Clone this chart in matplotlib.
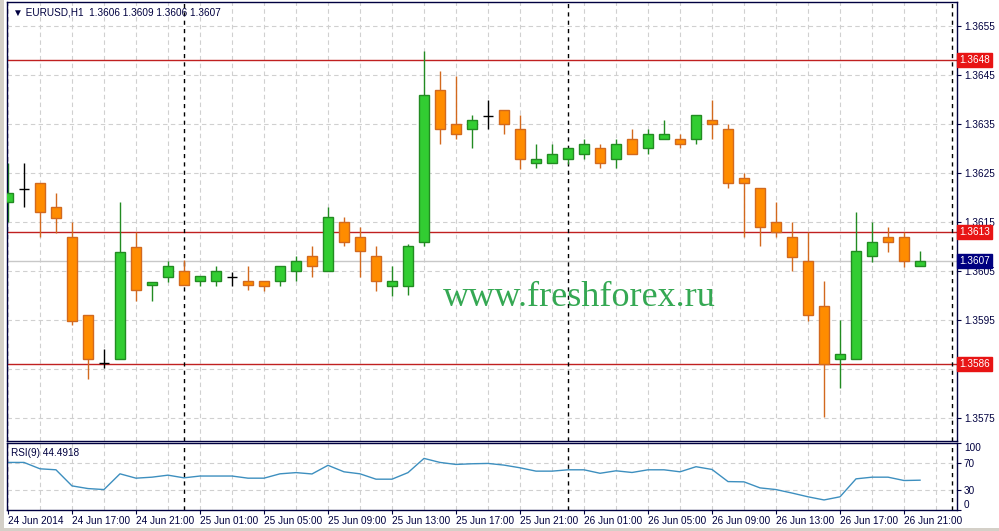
import numpy as np
import matplotlib
matplotlib.use("Agg")
from matplotlib import pyplot as plt
import matplotlib.transforms as mtrans
from matplotlib.patches import Rectangle

# hourly EURUSD bars, 24 Jun 13:00 .. 26 Jun 22:00
opens = [1.36191, 1.36217, 1.36230, 1.36181, 1.36119, 1.35960, 1.35862, 1.35870, 1.36099, 1.36021,
         1.36038, 1.36050, 1.36030, 1.36030, 1.36038, 1.36030, 1.36030, 1.36030, 1.36050, 1.36081,
         1.36050, 1.36150, 1.36119, 1.36081, 1.36020, 1.36020, 1.36109, 1.36420, 1.36350, 1.36340,
         1.36366, 1.36379, 1.36340, 1.36270, 1.36270, 1.36279, 1.36289, 1.36300, 1.36279, 1.36319,
         1.36300, 1.36319, 1.36319, 1.36319, 1.36358, 1.36340, 1.36240, 1.36219, 1.36150, 1.36119,
         1.36070, 1.35979, 1.35870, 1.35870, 1.36081, 1.36119, 1.36119, 1.36060]
highs = [1.36270, 1.36270, 1.36230, 1.36210, 1.36150, 1.35960, 1.35890, 1.36191, 1.36130, 1.36028,
         1.36070, 1.36072, 1.36040, 1.36060, 1.36048, 1.36060, 1.36030, 1.36060, 1.36081, 1.36100,
         1.36181, 1.36160, 1.36140, 1.36100, 1.36060, 1.36105, 1.36500, 1.36458, 1.36448, 1.36368,
         1.36399, 1.36379, 1.36368, 1.36309, 1.36309, 1.36300, 1.36319, 1.36309, 1.36319, 1.36340,
         1.36340, 1.36358, 1.36330, 1.36368, 1.36399, 1.36350, 1.36250, 1.36219, 1.36191, 1.36150,
         1.36130, 1.36030, 1.35950, 1.36170, 1.36150, 1.36140, 1.36130, 1.36091]
lows = [1.36150, 1.36181, 1.36119, 1.36128, 1.35940, 1.35830, 1.35852, 1.35870, 1.35989, 1.35989,
        1.36028, 1.36021, 1.36020, 1.36020, 1.36020, 1.36011, 1.36010, 1.36020, 1.36030, 1.36038,
        1.36050, 1.36100, 1.36038, 1.36009, 1.35999, 1.36000, 1.36100, 1.36309, 1.36319, 1.36300,
        1.36340, 1.36330, 1.36258, 1.36260, 1.36270, 1.36268, 1.36279, 1.36260, 1.36260, 1.36289,
        1.36289, 1.36319, 1.36300, 1.36309, 1.36319, 1.36219, 1.36119, 1.36100, 1.36119, 1.36050,
        1.35948, 1.35752, 1.35811, 1.35870, 1.36068, 1.36089, 1.36058, 1.36060]
closes = [1.36210, 1.36217, 1.36170, 1.36158, 1.35948, 1.35870, 1.35862, 1.36089, 1.36011, 1.36028,
          1.36060, 1.36021, 1.36040, 1.36050, 1.36038, 1.36021, 1.36020, 1.36060, 1.36070, 1.36060,
          1.36160, 1.36109, 1.36091, 1.36030, 1.36030, 1.36100, 1.36409, 1.36340, 1.36330, 1.36358,
          1.36366, 1.36350, 1.36279, 1.36279, 1.36289, 1.36300, 1.36309, 1.36270, 1.36309, 1.36289,
          1.36330, 1.36330, 1.36309, 1.36368, 1.36350, 1.36230, 1.36230, 1.36140, 1.36130, 1.36079,
          1.35960, 1.35860, 1.35881, 1.36091, 1.36109, 1.36109, 1.36070, 1.36070]

rsi = [71, 71, 61.5, 60, 36, 32, 30.5, 54, 47.5, 49,
       52, 48, 50.7, 50.7, 50.7, 47.5, 47.5, 54, 55.8, 53.8,
       66.7, 57, 54, 46, 46, 55.8, 77, 71, 68, 69,
       69.5, 67, 63, 58, 58, 60, 60, 54.8, 58.5, 56,
       60, 60, 57, 64.6, 60.5, 42.4, 42, 33, 30.5, 25.3,
       19.7, 15, 19.7, 46.5, 49, 49, 44, 44.4918]

time_labels = ["24 Jun 2014", "24 Jun 17:00", "24 Jun 21:00", "25 Jun 01:00", "25 Jun 05:00",
               "25 Jun 09:00", "25 Jun 13:00", "25 Jun 17:00", "25 Jun 21:00", "26 Jun 01:00",
               "26 Jun 05:00", "26 Jun 09:00", "26 Jun 13:00", "26 Jun 17:00", "26 Jun 21:00"]
label_bars = [0, 4, 8, 12, 16, 20, 24, 28, 32, 36, 40, 44, 48, 52, 56]
separators = [11, 35, 59]          # midnight bars
levels = [1.3648, 1.3613, 1.3586]
last_price = 1.3607
price_ticks = [1.3575, 1.3585, 1.3595, 1.3605, 1.3615, 1.3625, 1.3635, 1.3645, 1.3655]
price_labels = ["1.3575", "", "1.3595", "1.3605", "1.3615", "1.3625", "1.3635", "1.3645", "1.3655"]

W, H = 999, 531
plt.rcParams['font.family'] = ['Liberation Sans', 'DejaVu Sans']
fig = plt.figure(figsize=(W / 100, H / 100), dpi=100)
fig.patch.set_facecolor("white")

def frac(x0, y0, x1, y1):
    return [x0 / W, 1 - y1 / H, (x1 - x0) / W, (y1 - y0) / H]

navy = "#000040"
grid_c = "#d0d0d0"
fs = 7.2
ax = fig.add_axes(frac(7, 2, 957, 441))
ax2 = fig.add_axes(frac(7, 443, 957, 510))

x = np.arange(len(opens))
o = np.array(opens); h = np.array(highs); l = np.array(lows); c = np.array(closes)
up = c > o
dn = c < o
dj = c == o

xlim = (-0.06, 59.31)
for a in (ax, ax2):
    a.set_xlim(*xlim)
    for b in range(0, 60, 2):
        a.axvline(b, color=grid_c, lw=0.8, ls=(0, (4, 3)), zorder=0)
    for s in separators:
        a.axvline(s, color="black", lw=1, ls=(0, (3, 3)), zorder=1.6)
    for sp in a.spines.values():
        sp.set_color(navy)
        sp.set_linewidth(1)

ax.set_ylim(1.35703, 1.36599)
for p in price_ticks:
    ax.axhline(p, color=grid_c, lw=0.8, ls=(0, (4, 3)), zorder=0)

green, green_e = "#32cd32", "#228b22"
orange, orange_e = "#ff8c00", "#d2691e"
bw = 0.62
ax.vlines(x[up], l[up], h[up], color=green_e, lw=1, zorder=2)
ax.bar(x[up], (c - o)[up], bw, bottom=o[up], color=green, edgecolor=green_e, lw=1, zorder=3)
ax.vlines(x[dn], l[dn], h[dn], color=orange_e, lw=1, zorder=2)
ax.bar(x[dn], (o - c)[dn], bw, bottom=c[dn], color=orange, edgecolor=orange_e, lw=1, zorder=3)
ax.vlines(x[dj], l[dj], h[dj], color="black", lw=1, zorder=2)
ax.hlines(o[dj], x[dj] - bw / 2, x[dj] + bw / 2, color="black", lw=1, zorder=3)

for lv in levels:
    ax.axhline(lv, color="#c02020", lw=1, zorder=1.5)
ax.axhline(last_price, color="#c8c8c8", lw=1, zorder=1.4)

ax.yaxis.tick_right()
ax.set_yticks(price_ticks)
ax.set_yticklabels(price_labels)
ax.tick_params(axis="y", colors=navy, labelsize=fs, length=3, pad=2)
ax.tick_params(axis="x", bottom=False, labelbottom=False)

tr = mtrans.blended_transform_factory(ax.transAxes, ax.transData)
for lv in levels:
    ax.text(1.0025, lv, f"{lv:.4f}", transform=tr, color="white", fontsize=fs, va="center",
            ha="left", bbox=dict(boxstyle="square,pad=0.2", fc="#e81414", ec="#e81414"))
ax.text(1.0025, last_price, f"{last_price:.4f}", transform=tr, color="white", fontsize=fs,
        va="center", ha="left", bbox=dict(boxstyle="square,pad=0.2", fc="#000080", ec="#000080"))

ax.text(0.006, 0.988, "\u25BC EURUSD,H1  1.3606 1.3609 1.3606 1.3607", transform=ax.transAxes,
        fontsize=fs, color=navy, va="top", ha="left")
ax.text(35.7, 1.35995, "www.freshforex.ru", fontsize=26, color="#35a853",
        family=["Liberation Serif"], ha="center", va="center", zorder=1)

# RSI panel
ax2.set_ylim(0, 100)
for lvl in (30, 70):
    ax2.axhline(lvl, color=grid_c, lw=0.8, ls=(0, (4, 3)), zorder=0)
ax2.plot(x, rsi, color="#3d8fbf", lw=1, zorder=2)
ax2.yaxis.tick_right()
ax2.set_yticks([0, 30, 70, 100])
ax2.tick_params(axis="y", colors=navy, labelsize=fs, length=3, pad=2)
ylabs = ax2.get_yticklabels()
ylabs[0].set_va("bottom")
ylabs[-1].set_va("top")
ax2.set_xticks(label_bars)
ax2.set_xticklabels(time_labels, ha="left")
ax2.tick_params(axis="x", colors=navy, labelsize=fs, length=3, pad=1, direction="out")
ax2.text(0.004, 0.93, "RSI(9) 44.4918", transform=ax2.transAxes, fontsize=fs, color=navy,
         va="top", ha="left")

# window border
fig.patches.append(Rectangle((0, 0), 4 / W, 1, transform=fig.transFigure, fc="#d4d0c8",
                             ec="none"))
fig.patches.append(Rectangle((0, 0), 1, 3 / H, transform=fig.transFigure, fc="#d4d0c8",
                             ec="none"))

fig.savefig("out.png", dpi=100)
